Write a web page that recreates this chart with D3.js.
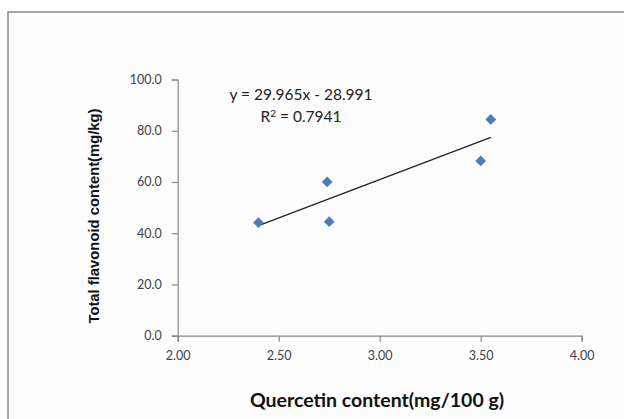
<!DOCTYPE html>
<html>
<head>
<meta charset="utf-8">
<script src="https://cdn.jsdelivr.net/npm/d3@7"></script>
<style>
  body { margin: 0; background: #fff; }
  svg { display: block; }
</style>
</head>
<body>
<div id="chart"></div>
<script>
// quercetin (mg/100 g) vs total flavonoid (mg/kg)
const quercetin = [2.40, 2.74, 2.75, 3.50, 3.55];
const flavonoid = [44.1, 60.0, 44.5, 68.2, 84.4];
const xTicks = [2.00, 2.50, 3.00, 3.50, 4.00];
const yTicks = [0, 20, 40, 60, 80, 100];
const slope = 29.965;
const intercept = -28.991;
const rSquared = 0.7941;

const width = 624, height = 419;
const plotLeft = 177.7, plotRight = 581.7, plotTop = 79.5, plotBottom = 335.7;

const svg = d3.select("#chart").append("svg")
  .attr("width", width)
  .attr("height", height);

// chart area frame (runs off the right and bottom edge)
svg.append("rect")
  .attr("x", 8).attr("y", 12)
  .attr("width", 640).attr("height", 430)
  .attr("fill", "#fdfdfd")
  .attr("stroke", "#8a8a8a")
  .attr("stroke-width", 1.5);

const x = d3.scaleLinear().domain([2, 4]).range([plotLeft, plotRight]);
const y = d3.scaleLinear().domain([0, 100]).range([plotBottom, plotTop]);

const axisColor = "#868686";
const tickFont = "Lato, 'Open Sans', sans-serif";

const yAxis = svg.append("g")
  .attr("transform", `translate(${plotLeft},0)`)
  .call(d3.axisLeft(y).tickValues(yTicks).tickFormat(d3.format(".1f")).tickSizeOuter(0).tickSize(6).tickPadding(10));

const xAxis = svg.append("g")
  .attr("transform", `translate(0,${plotBottom})`)
  .call(d3.axisBottom(x).tickValues(xTicks).tickFormat(d3.format(".2f")).tickSizeOuter(0).tickSize(6).tickPadding(9));

[yAxis, xAxis].forEach(g => {
  g.select(".domain").attr("stroke", axisColor).attr("stroke-width", 1.2);
  g.selectAll(".tick line").attr("stroke", axisColor).attr("stroke-width", 1.2);
  g.selectAll(".tick text")
    .attr("fill", "#404050")
    .style("font-family", tickFont)
    .style("font-size", "12.5px");
});

// trendline across the data range
const xr = d3.extent(quercetin);
svg.append("line")
  .attr("x1", x(xr[0])).attr("y1", y(slope * xr[0] + intercept))
  .attr("x2", x(xr[1])).attr("y2", y(slope * xr[1] + intercept))
  .attr("stroke", "#222")
  .attr("stroke-width", 1.3);

// diamond markers
const diamond = d3.symbol().type(d3.symbolSquare).size(58);
svg.append("g").selectAll("path")
  .data(quercetin.map((q, i) => [q, flavonoid[i]]))
  .join("path")
  .attr("d", diamond)
  .attr("transform", d => `translate(${x(d[0])},${y(d[1])}) rotate(45)`)
  .attr("fill", "#4a7ebb");

// regression label
const eq = svg.append("g")
  .style("font-family", tickFont)
  .style("font-size", "15.5px")
  .attr("fill", "#222")
  .attr("text-anchor", "middle");
eq.append("text")
  .attr("x", 301).attr("y", 100)
  .text(`y = ${slope}x - ${Math.abs(intercept)}`);
const r2 = eq.append("text").attr("x", 301).attr("y", 122);
r2.append("tspan").text("R");
r2.append("tspan").attr("dy", -5).style("font-size", "10px").text("2");
r2.append("tspan").attr("dy", 5).text(` = ${rSquared}`);

// axis titles
svg.append("text")
  .attr("transform", `translate(98.5,216) rotate(-90)`)
  .attr("text-anchor", "middle")
  .style("font-family", "'Liberation Sans', Arial, sans-serif")
  .style("font-weight", "bold")
  .style("font-size", "14.8px")
  .attr("fill", "#111")
  .text("Total flavonoid content(mg/kg)");

svg.append("text")
  .attr("x", 377).attr("y", 407)
  .attr("text-anchor", "middle")
  .style("font-family", tickFont)
  .style("font-weight", "bold")
  .style("font-size", "19.5px")
  .attr("fill", "#111")
  .text("Quercetin content(mg/100 g)");
</script>
</body>
</html>
